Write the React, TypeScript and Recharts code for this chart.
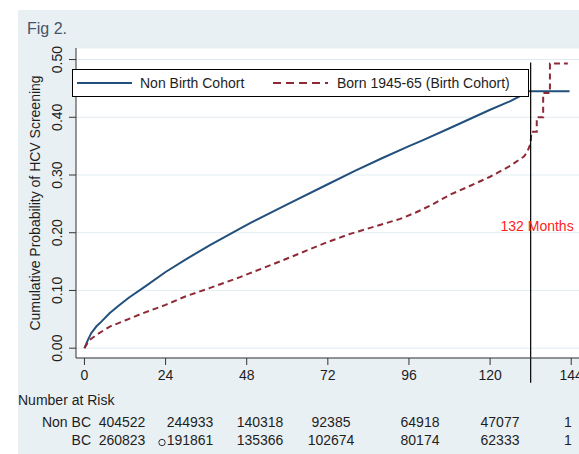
import React from "react";
import {
  CartesianGrid,
  Legend,
  Line,
  LineChart,
  ReferenceDot,
  ReferenceLine,
  XAxis,
  YAxis,
} from "recharts";

// Kaplan-Meier style cumulative screening probability
const nonBcMonths = [0, 1, 2, 3.5, 5, 7.5, 10, 13, 18, 24, 30, 37, 46, 49, 60, 72, 80, 88, 96, 100, 108, 114, 120, 126, 130, 131, 143.5];
const nonBcValues = [0, 0.014, 0.026, 0.0375, 0.046, 0.061, 0.073, 0.087, 0.107, 0.132, 0.154, 0.178, 0.207, 0.2166, 0.249, 0.284, 0.307, 0.329, 0.35, 0.36, 0.381, 0.397, 0.413, 0.428, 0.44, 0.445, 0.445];

const bcMonths = [0, 0.6, 1.5, 3.5, 7.5, 12, 17, 24, 30, 37, 46, 49, 56, 64, 72, 78.6, 86, 93.4, 98, 102.3, 108.2, 114, 120, 126, 130, 131, 132, 132.2, 133.8, 133.8, 135.7, 135.7, 137.7, 137.7, 143];
const bcValues = [0, 0.006, 0.014, 0.023, 0.0375, 0.048, 0.06, 0.075, 0.09, 0.104, 0.123, 0.13, 0.146, 0.165, 0.184, 0.198, 0.211, 0.224, 0.235, 0.247, 0.266, 0.281, 0.297, 0.316, 0.332, 0.34, 0.355, 0.375, 0.375, 0.4, 0.4, 0.442, 0.442, 0.493, 0.493];

const xTicks = [0, 24, 48, 72, 96, 120, 144];
const yTicks = [0, 0.1, 0.2, 0.3, 0.4, 0.5];

const riskRowLabels = ["Non BC", "BC"];
const riskNonBc = ["404522", "244933", "140318", "92385", "64918", "47077", "1"];
const riskBc = ["260823", "191861", "135366", "102674", "80174", "62333", "1"];

const cutoffMonth = 132;
const cutoffLabel = "132 Months";

const nonBcData = nonBcMonths.map((m, i) => ({ month: m, p: nonBcValues[i] }));
const bcData = bcMonths.map((m, i) => ({ month: m, p: bcValues[i] }));

const FONT = "'Liberation Sans', Arial, sans-serif";
const BLUE = "#22507c";
const RED = "#8e2a36";
const TEXT = "#1e1e1e";

// column centres of the risk table (layout only)
const riskColX = [122, 190, 260, 331, 420, 500, 568];

const YTick = (props: any) => {
  const { x, y, payload } = props;
  return (
    <text
      x={x}
      y={y}
      transform={`rotate(-90, ${x}, ${y})`}
      textAnchor="middle"
      dominantBaseline="central"
      fontSize={14}
      fontFamily={FONT}
      fill={TEXT}
    >
      {Number(payload.value).toFixed(2)}
    </text>
  );
};

const YTitle = (props: any) => {
  const vb = props.viewBox || { x: 30, y: 48, width: 46, height: 310 };
  const cx = vb.x + 5;
  const cy = vb.y + vb.height / 2;
  return (
    <text
      x={cx}
      y={cy}
      transform={`rotate(-90, ${cx}, ${cy})`}
      textAnchor="middle"
      dominantBaseline="central"
      fontSize={14}
      fontFamily={FONT}
      fill={TEXT}
    >
      Cumulative Probability of HCV Screening
    </text>
  );
};

const LegendBox = () => (
  <svg width={457} height={28} style={{ display: "block" }}>
    <rect x={0.5} y={0.5} width={456} height={27} fill="#fff" stroke="#000" />
    <line x1={5} x2={60} y1={14} y2={14} stroke={BLUE} strokeWidth={2} />
    <text x={68} y={14} dominantBaseline="central" fontSize={14} fontFamily={FONT} fill={TEXT}>
      Non Birth Cohort
    </text>
    <line x1={201} x2={256} y1={14} y2={14} stroke={RED} strokeWidth={2} strokeDasharray="8 5" />
    <text x={265} y={14} dominantBaseline="central" fontSize={14} fontFamily={FONT} fill={TEXT}>
      Born 1945-65 (Birth Cohort)
    </text>
  </svg>
);

export default function App() {
  return (
    <div style={{ position: "absolute", left: 0, top: 0, width: 579, height: 454, background: "#fff", overflow: "hidden" }}>
      <div style={{ position: "absolute", left: 18, top: 10, right: 0, bottom: 0, background: "#e9f0f3" }} />
      <div style={{ position: "absolute", left: 0, top: 0 }}>
        <LineChart width={579} height={454} margin={{ top: 48, right: 0, left: 30, bottom: 66 }}>
          <CartesianGrid horizontal vertical={false} stroke="#e2ecf0" fill="#ffffff" />
          <XAxis
            dataKey="month"
            type="number"
            domain={[-2.5, 146.3]}
            allowDataOverflow
            ticks={xTicks}
            interval={0}
            height={30}
            tickSize={7}
            tickMargin={5}
            axisLine={{ stroke: "#333" }}
            tickLine={{ stroke: "#333" }}
            tick={{ fill: TEXT, fontSize: 14, fontFamily: FONT }}
          />
          <YAxis
            type="number"
            domain={[-0.017, 0.52]}
            allowDataOverflow
            ticks={yTicks}
            interval={0}
            width={46}
            tickSize={7}
            tickMargin={12}
            axisLine={{ stroke: "#333" }}
            tickLine={{ stroke: "#333" }}
            tick={<YTick />}
            label={{ content: (p: any) => <YTitle {...p} /> }}
          />
          <Legend
            layout="horizontal"
            verticalAlign="middle"
            align="center"
            content={() => <LegendBox />}
            wrapperStyle={{ left: 72, top: 69, width: 457, height: 28 }}
          />
          <Line
            data={nonBcData}
            dataKey="p"
            name="Non Birth Cohort"
            type="linear"
            stroke={BLUE}
            strokeWidth={2}
            dot={false}
            activeDot={false}
            isAnimationActive={false}
          />
          <Line
            data={bcData}
            dataKey="p"
            name="Born 1945-65 (Birth Cohort)"
            type="linear"
            stroke={RED}
            strokeWidth={2}
            strokeDasharray="6 4"
            dot={false}
            activeDot={false}
            isAnimationActive={false}
          />
          <ReferenceLine
            segment={[
              { x: cutoffMonth, y: 0.495 },
              { x: cutoffMonth, y: -0.06 },
            ]}
            stroke="#000"
            strokeWidth={1.2}
            ifOverflow="visible"
          />
          <ReferenceDot
            x={133.9}
            y={0.212}
            r={0}
            ifOverflow="visible"
            label={{ value: cutoffLabel, position: "center", fill: "#ff1c1c", fontSize: 14, fontFamily: FONT }}
          />
        </LineChart>
      </div>
      <svg width={579} height={454} style={{ position: "absolute", left: 0, top: 0, pointerEvents: "none" }}>
        <text x={27} y={28} dominantBaseline="central" fontSize={16} fontFamily={FONT} fill="#44546a">
          Fig 2.
        </text>
        <text x={18} y={400} dominantBaseline="central" fontSize={14} fontFamily={FONT} fill={TEXT}>
          Number at Risk
        </text>
        <text x={91} y={421.5} textAnchor="end" dominantBaseline="central" fontSize={14} fontFamily={FONT} fill={TEXT}>
          {riskRowLabels[0]}
        </text>
        <text x={91} y={440} textAnchor="end" dominantBaseline="central" fontSize={14} fontFamily={FONT} fill={TEXT}>
          {riskRowLabels[1]}
        </text>
        {riskNonBc.map((v, i) => (
          <text key={"n" + i} x={riskColX[i]} y={421.5} textAnchor="middle" dominantBaseline="central" fontSize={14} fontFamily={FONT} fill={TEXT}>
            {v}
          </text>
        ))}
        {riskBc.map((v, i) => (
          <text key={"b" + i} x={riskColX[i]} y={440} textAnchor="middle" dominantBaseline="central" fontSize={14} fontFamily={FONT} fill={TEXT}>
            {v}
          </text>
        ))}
        <circle cx={162} cy={442.5} r={3.2} fill="none" stroke="#333" strokeWidth={1} />
      </svg>
    </div>
  );
}
